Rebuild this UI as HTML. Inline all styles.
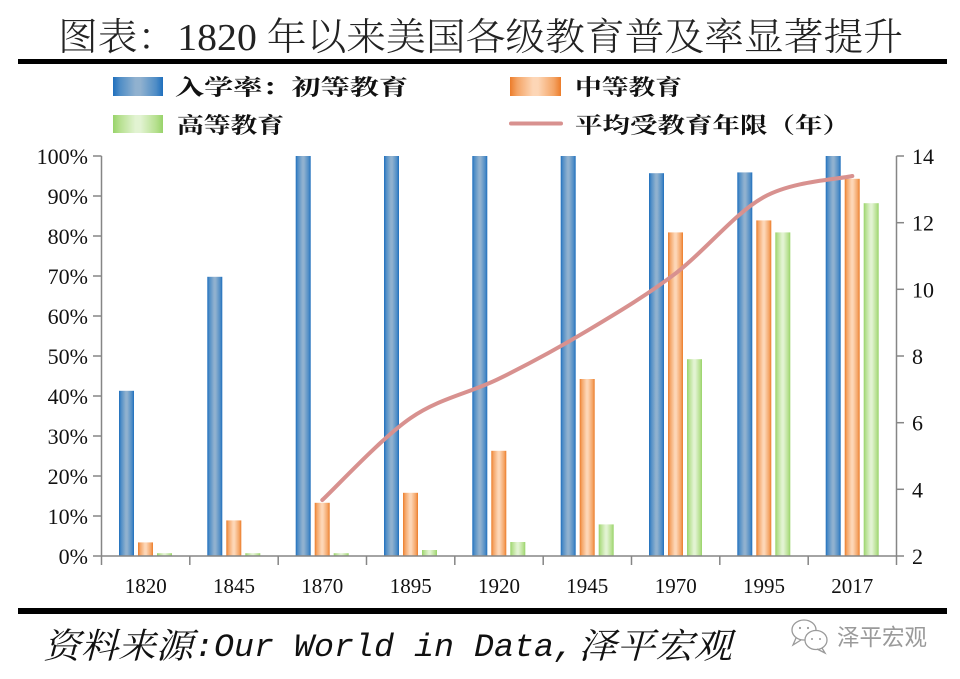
<!DOCTYPE html>
<html>
<head>
<meta charset="utf-8">
<style>
  html, body { margin: 0; padding: 0; background: #ffffff; }
  svg { display: block; }
</style>
</head>
<body>
<svg width="960" height="679" viewBox="0 0 960 679" xmlns="http://www.w3.org/2000/svg">
  <defs>
    <linearGradient id="gb" x1="0" y1="0" x2="1" y2="0">
      <stop offset="0" stop-color="#1f6fbd"/>
      <stop offset="0.14" stop-color="#4f8dc6"/>
      <stop offset="0.45" stop-color="#90b1cf"/>
      <stop offset="0.55" stop-color="#90b1cf"/>
      <stop offset="0.86" stop-color="#4f8dc6"/>
      <stop offset="1" stop-color="#1f6fbd"/>
    </linearGradient>
    <linearGradient id="go" x1="0" y1="0" x2="1" y2="0">
      <stop offset="0" stop-color="#ec7c2a"/>
      <stop offset="0.14" stop-color="#f4a465"/>
      <stop offset="0.45" stop-color="#fdd6b6"/>
      <stop offset="0.55" stop-color="#fdd6b6"/>
      <stop offset="0.86" stop-color="#f4a465"/>
      <stop offset="1" stop-color="#ec7c2a"/>
    </linearGradient>
    <linearGradient id="gg" x1="0" y1="0" x2="1" y2="0">
      <stop offset="0" stop-color="#98d36a"/>
      <stop offset="0.14" stop-color="#b6e08f"/>
      <stop offset="0.45" stop-color="#e2f3d2"/>
      <stop offset="0.55" stop-color="#e2f3d2"/>
      <stop offset="0.86" stop-color="#b6e08f"/>
      <stop offset="1" stop-color="#98d36a"/>
    </linearGradient>
  </defs>

  <!-- Title -->
  <text x="58" y="50" font-size="38" font-weight="300" fill="#222" textLength="845" lengthAdjust="spacingAndGlyphs"
        font-family="'Liberation Serif','Noto Serif CJK SC',serif">图表：1820 年以来美国各级教育普及率显著提升</text>
  <rect x="18" y="59" width="929" height="5" fill="#000"/>

  <!-- Legend -->
  <rect x="113" y="77" width="50" height="19" fill="url(#gb)"/>
  <text x="175" y="95" font-size="22" font-weight="bold" fill="#111" textLength="233" lengthAdjust="spacingAndGlyphs"
        font-family="'Liberation Serif','Noto Serif CJK SC','Noto Sans CJK SC',serif">入学率：初等教育</text>
  <rect x="510" y="77" width="51" height="19" fill="url(#go)"/>
  <text x="575" y="95" font-size="22" font-weight="bold" fill="#111" textLength="107" lengthAdjust="spacingAndGlyphs"
        font-family="'Liberation Serif','Noto Serif CJK SC','Noto Sans CJK SC',serif">中等教育</text>
  <rect x="113" y="115" width="50" height="18" fill="url(#gg)"/>
  <text x="177" y="133" font-size="22" font-weight="bold" fill="#111" textLength="107" lengthAdjust="spacingAndGlyphs"
        font-family="'Liberation Serif','Noto Serif CJK SC','Noto Sans CJK SC',serif">高等教育</text>
  <line x1="511" y1="123.5" x2="561" y2="123.5" stroke="#d8918f" stroke-width="4" stroke-linecap="round"/>
  <text x="575" y="133" font-size="22" font-weight="bold" fill="#111" textLength="275" lengthAdjust="spacingAndGlyphs"
        font-family="'Liberation Serif','Noto Serif CJK SC','Noto Sans CJK SC',serif">平均受教育年限（年）</text>

  <!-- Bars -->
  <g>
    <rect x="119" y="390.8" width="15" height="165.2" fill="url(#gb)"/>
    <rect x="138" y="542.4" width="15" height="13.6" fill="url(#go)"/>
    <rect x="157" y="553.2" width="15" height="2.8" fill="url(#gg)"/>
    <rect x="207.3" y="276.8" width="15" height="279.2" fill="url(#gb)"/>
    <rect x="226.3" y="520.4" width="15" height="35.6" fill="url(#go)"/>
    <rect x="245.3" y="553.2" width="15" height="2.8" fill="url(#gg)"/>
    <rect x="295.7" y="156" width="15" height="400" fill="url(#gb)"/>
    <rect x="314.7" y="502.8" width="15" height="53.2" fill="url(#go)"/>
    <rect x="333.7" y="553.2" width="15" height="2.8" fill="url(#gg)"/>
    <rect x="384" y="156" width="15" height="400" fill="url(#gb)"/>
    <rect x="403" y="492.8" width="15" height="63.2" fill="url(#go)"/>
    <rect x="422" y="550" width="15" height="6" fill="url(#gg)"/>
    <rect x="472.3" y="156" width="15" height="400" fill="url(#gb)"/>
    <rect x="491.3" y="450.8" width="15" height="105.2" fill="url(#go)"/>
    <rect x="510.3" y="542" width="15" height="14" fill="url(#gg)"/>
    <rect x="560.7" y="156" width="15" height="400" fill="url(#gb)"/>
    <rect x="579.7" y="379" width="15" height="177" fill="url(#go)"/>
    <rect x="598.7" y="524.4" width="15" height="31.6" fill="url(#gg)"/>
    <rect x="649" y="173.2" width="15" height="382.8" fill="url(#gb)"/>
    <rect x="668" y="232.4" width="15" height="323.6" fill="url(#go)"/>
    <rect x="687" y="359.2" width="15" height="196.8" fill="url(#gg)"/>
    <rect x="737.3" y="172.4" width="15" height="383.6" fill="url(#gb)"/>
    <rect x="756.3" y="220.4" width="15" height="335.6" fill="url(#go)"/>
    <rect x="775.3" y="232.4" width="15" height="323.6" fill="url(#gg)"/>
    <rect x="825.7" y="156" width="15" height="400" fill="url(#gb)"/>
    <rect x="844.7" y="178.8" width="15" height="377.2" fill="url(#go)"/>
    <rect x="863.7" y="203.2" width="15" height="352.8" fill="url(#gg)"/>
  </g>

  <!-- Axes -->
  <g stroke="#868686" stroke-width="1.5" fill="none">
    <line x1="101.5" y1="156" x2="101.5" y2="556"/>
    <line x1="101.5" y1="556" x2="896.5" y2="556"/>
    <line x1="896.5" y1="156" x2="896.5" y2="556"/>
    <line x1="93" y1="156" x2="101.5" y2="156"/>
    <line x1="93" y1="196" x2="101.5" y2="196"/>
    <line x1="93" y1="236" x2="101.5" y2="236"/>
    <line x1="93" y1="276" x2="101.5" y2="276"/>
    <line x1="93" y1="316" x2="101.5" y2="316"/>
    <line x1="93" y1="356" x2="101.5" y2="356"/>
    <line x1="93" y1="396" x2="101.5" y2="396"/>
    <line x1="93" y1="436" x2="101.5" y2="436"/>
    <line x1="93" y1="476" x2="101.5" y2="476"/>
    <line x1="93" y1="516" x2="101.5" y2="516"/>
    <line x1="93" y1="556" x2="101.5" y2="556"/>
    <line x1="896.5" y1="156" x2="904" y2="156"/>
    <line x1="896.5" y1="222.7" x2="904" y2="222.7"/>
    <line x1="896.5" y1="289.3" x2="904" y2="289.3"/>
    <line x1="896.5" y1="356" x2="904" y2="356"/>
    <line x1="896.5" y1="422.7" x2="904" y2="422.7"/>
    <line x1="896.5" y1="489.3" x2="904" y2="489.3"/>
    <line x1="896.5" y1="556" x2="904" y2="556"/>
    <line x1="101.5" y1="556" x2="101.5" y2="565"/>
    <line x1="189.8" y1="556" x2="189.8" y2="565"/>
    <line x1="278.2" y1="556" x2="278.2" y2="565"/>
    <line x1="366.5" y1="556" x2="366.5" y2="565"/>
    <line x1="454.8" y1="556" x2="454.8" y2="565"/>
    <line x1="543.2" y1="556" x2="543.2" y2="565"/>
    <line x1="631.5" y1="556" x2="631.5" y2="565"/>
    <line x1="719.8" y1="556" x2="719.8" y2="565"/>
    <line x1="808.2" y1="556" x2="808.2" y2="565"/>
    <line x1="896.5" y1="556" x2="896.5" y2="565"/>
  </g>

  <!-- Line series -->
  <path d="M322.3,500 C337.0,486.3 381.3,438.2 410.7,418 C440.1,397.8 469.6,393.3 499,378.7 C528.4,364.2 557.9,348.3 587.3,330.7 C616.7,313.1 646.3,295.6 675.7,273.3 C705.1,251.0 734.6,213.2 764,197 C793.4,180.8 837.6,179.5 852.3,176"
        fill="none" stroke="#d8918f" stroke-width="4" stroke-linecap="round" stroke-linejoin="round"/>

  <!-- Left axis labels -->
  <g font-family="'Liberation Serif',serif" font-size="22" fill="#111" text-anchor="end">
    <text x="88" y="164">100%</text>
    <text x="88" y="204">90%</text>
    <text x="88" y="244">80%</text>
    <text x="88" y="284">70%</text>
    <text x="88" y="324">60%</text>
    <text x="88" y="364">50%</text>
    <text x="88" y="404">40%</text>
    <text x="88" y="444">30%</text>
    <text x="88" y="484">20%</text>
    <text x="88" y="524">10%</text>
    <text x="88" y="564">0%</text>
  </g>

  <!-- Right axis labels -->
  <g font-family="'Liberation Serif',serif" font-size="22" fill="#111" text-anchor="start">
    <text x="912" y="164">14</text>
    <text x="912" y="230.7">12</text>
    <text x="912" y="297.3">10</text>
    <text x="912" y="364">8</text>
    <text x="912" y="430.7">6</text>
    <text x="912" y="497.3">4</text>
    <text x="912" y="564">2</text>
  </g>

  <!-- X labels -->
  <g font-family="'Liberation Serif',serif" font-size="21" fill="#111" text-anchor="middle">
    <text x="145.7" y="593">1820</text>
    <text x="234" y="593">1845</text>
    <text x="322.3" y="593">1870</text>
    <text x="410.7" y="593">1895</text>
    <text x="499" y="593">1920</text>
    <text x="587.3" y="593">1945</text>
    <text x="675.7" y="593">1970</text>
    <text x="764" y="593">1995</text>
    <text x="852.3" y="593">2017</text>
  </g>

  <!-- Bottom rule -->
  <rect x="18" y="608" width="929" height="6" fill="#000"/>

  <!-- Source -->
  <g fill="#111" font-style="italic">
    <text x="43" y="658" font-size="35" textLength="150" lengthAdjust="spacingAndGlyphs"
          font-family="'Noto Serif CJK SC','Noto Sans CJK SC',serif">资料来源</text>
    <text x="194" y="656" font-size="32" textLength="380" lengthAdjust="spacingAndGlyphs"
          font-family="'Liberation Mono','DejaVu Sans Mono',monospace">:Our World in Data,</text>
    <text x="578" y="658" font-size="35" textLength="154" lengthAdjust="spacingAndGlyphs"
          font-family="'Noto Serif CJK SC','Noto Sans CJK SC',serif">泽平宏观</text>
  </g>

  <!-- Watermark -->
  <g fill="none" stroke="#9a9a9a" stroke-width="1.3">
    <ellipse cx="804" cy="630" rx="12" ry="10"/>
    <path d="M796,638 L793,645 L801,640"/>
    <ellipse cx="816" cy="640" rx="11" ry="9.5" fill="#fff"/>
    <path d="M822,648 L825,653 L817,649"/>
  </g>
  <g fill="#9a9a9a">
    <circle cx="800" cy="628" r="1.1"/>
    <circle cx="808" cy="628" r="1.1"/>
    <circle cx="812" cy="639" r="1"/>
    <circle cx="820" cy="639" r="1"/>
  </g>
  <text x="837" y="645" font-size="23" fill="#9a9a9a" textLength="90" lengthAdjust="spacingAndGlyphs"
        font-family="'Noto Sans CJK SC','WenQuanYi Zen Hei',sans-serif">泽平宏观</text>
</svg>
</body>
</html>
